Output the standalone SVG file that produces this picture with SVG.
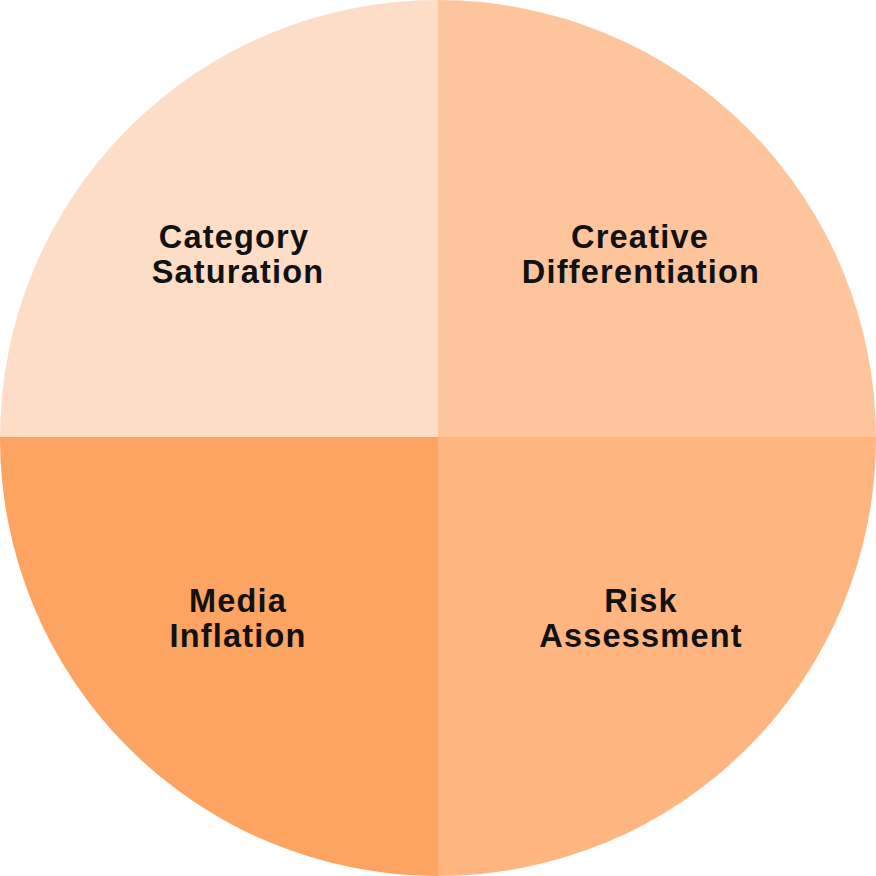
<svg xmlns="http://www.w3.org/2000/svg" width="876" height="876" viewBox="0 0 876 876">
<style>
.lbl{font-family:"Liberation Sans",Arial,sans-serif;font-weight:bold;font-size:32.5px;letter-spacing:1.2px;fill:#111;text-anchor:middle}
</style>
<rect width="876" height="876" fill="#ffffff"/>
<g id="q-category">
<path d="M438 437 L0 437 A438 438 0 0 1 438 0 Z" fill="#FEDDC7"/>
<text class="lbl" x="234" y="248">Category</text>
<text class="lbl" x="238" y="283">Saturation</text>
</g>
<g id="q-creative">
<path d="M438 437 L438 0 A438 438 0 0 1 876 437 Z" fill="#FEC59D"/>
<text class="lbl" x="640" y="248">Creative</text>
<text class="lbl" x="641" y="283">Differentiation</text>
</g>
<g id="q-media">
<path d="M438 437 L438 876 A438 438 0 0 1 0 437 Z" fill="#FEA463"/>
<text class="lbl" x="238" y="612">Media</text>
<text class="lbl" x="238" y="647">Inflation</text>
</g>
<g id="q-risk">
<path d="M438 437 L876 437 A438 438 0 0 1 438 876 Z" fill="#FEB580"/>
<text class="lbl" x="641" y="612">Risk</text>
<text class="lbl" x="641" y="647">Assessment</text>
</g>
</svg>
